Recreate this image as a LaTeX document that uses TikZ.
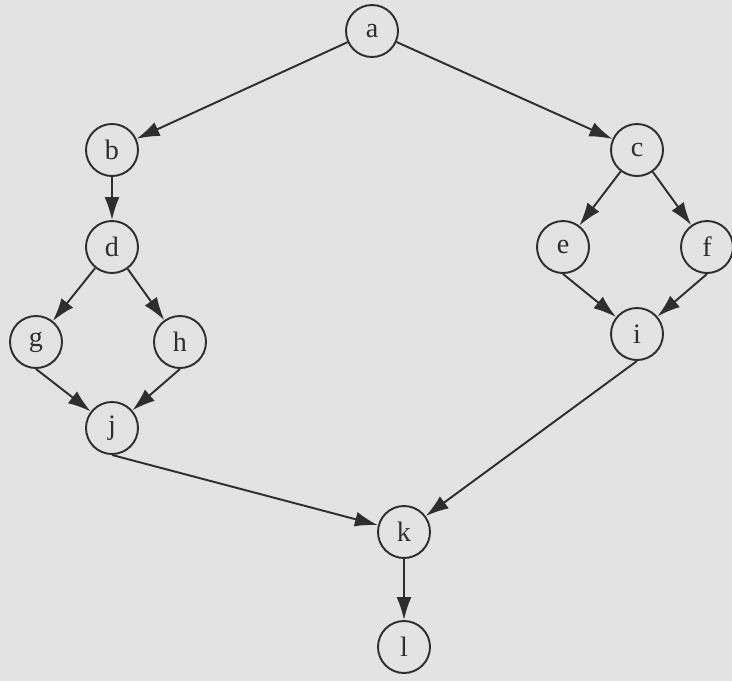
\documentclass[tikz,border=0pt]{standalone}
\usepackage{fontspec}
\setmainfont{Liberation Serif}
\usepackage{tikz}
\usetikzlibrary{arrows.meta,positioning}
\definecolor{Paper}{HTML}{E3E3E3}
\definecolor{Ink}{HTML}{2E2E2E}
\tikzset{
    % Plain circles, letters inside
    vertex/.style={
        circle,
        draw=Ink,
        line width=1.1pt,
        minimum size=1.04cm,
        inner sep=0pt,
        text=Ink,
        font=\fontsize{16}{19}\selectfont
    },
    arrow/.style={
        -{Latex[length=4.6mm,width=3mm]},
        line width=1.1pt,
        color=Ink
    }
}
\begin{document}
\begin{tikzpicture}[on grid]
    % page size and paper tone
    \fill[Paper] (-7.44,-13.00) rectangle (7.20,0.62);
    \useasboundingbox (-7.44,-13.00) rectangle (7.20,0.62);

    \node[vertex] (a) {a};

    \node[vertex, below left=2.38cm and 5.2cm of a] (b) {b};
    \node[vertex, below right=2.38cm and 5.3cm of a] (c) {c};

    \node[vertex, below=1.94cm of b] (d) {d};
    \node[vertex, below left=1.94cm and 1.48cm of c] (e) {e};
    \node[vertex, below right=1.94cm and 1.40cm of c] (f) {f};

    \node[vertex, below left=1.90cm and 1.52cm of d] (g) {g};
    \node[vertex, below right=1.90cm and 1.36cm of d] (h) {h};
    \node[vertex, below=3.68cm of c] (i) {i};

    \node[vertex, below=3.62cm of d] (j) {j};
    \node[vertex, below right=2.08cm and 5.84cm of j] (k) {k};
    \node[vertex, below=2.30cm of k] (l) {l};

    % Arrows
    \draw[arrow] (a) -- (b);
    \draw[arrow] (a) -- (c);
    \draw[arrow] (b) -- (d);
    \draw[arrow] (c) -- (e);
    \draw[arrow] (c) -- (f);
    \draw[arrow] (d) -- (g);
    \draw[arrow] (d) -- (h);
    \draw[arrow] (e.south) -- (i);
    \draw[arrow] (f.south) -- (i);
    \draw[arrow] (g.south) -- (j);
    \draw[arrow] (h.south) -- (j);
    \draw[arrow] (j.south) -- (k);
    \draw[arrow] (i.south) -- (k);
    \draw[arrow] (k) -- (l);
\end{tikzpicture}
\end{document}
